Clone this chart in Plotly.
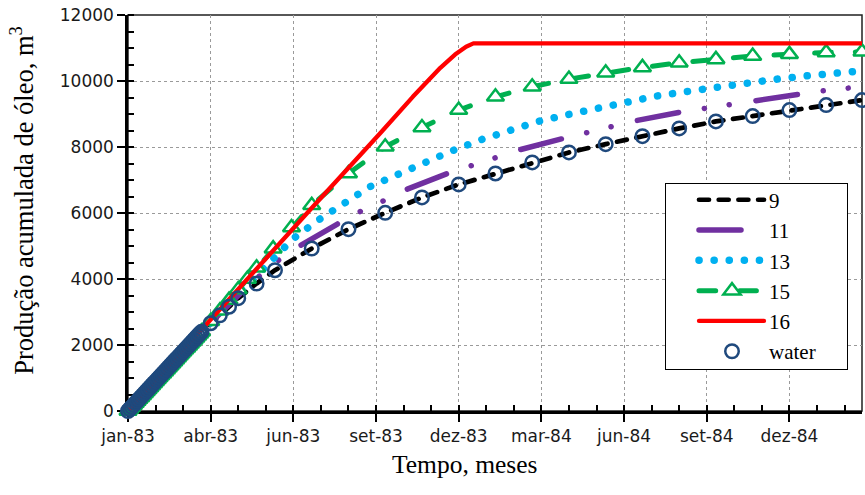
import plotly.graph_objects as go

# ---------------- data (days since 1983-01-01, cumulative oil m3) ----------------
tick_days = [0, 90, 180, 270, 360, 450, 540, 630, 720]
tick_labels = ["jan-83", "abr-83", "jun-83", "set-83", "dez-83", "mar-84", "jun-84", "set-84", "dez-84"]

early_days = [0, 2, 4, 6, 8, 10, 12, 14, 16, 18, 20, 22, 24, 26, 28, 30, 32, 34, 36, 38, 40,
              42, 44, 46, 48, 50, 52, 54, 56, 58, 60, 62, 64, 66, 68, 70, 72, 74, 76, 78, 80]
early_vals = [0, 60, 120, 180, 240, 300, 360, 420, 480, 540, 600, 660, 720, 780, 840, 900, 960,
              1020, 1080, 1140, 1200, 1260, 1320, 1380, 1440, 1500, 1560, 1620, 1680, 1740, 1800,
              1860, 1920, 1980, 2040, 2100, 2160, 2220, 2280, 2340, 2400]

water_days = early_days + [90, 100, 110, 120, 140, 160, 200, 240, 280, 320, 360, 400, 440, 480,
                           520, 560, 600, 640, 680, 720, 760, 799]
water_vals = early_vals + [2660, 2900, 3160, 3420, 3863, 4266, 4924, 5509, 6004, 6471, 6865, 7198,
                           7532, 7835, 8087, 8329, 8563, 8775, 8936, 9118, 9269, 9421]

s9_days = [0, 40, 80, 90, 100, 110, 120, 140, 160, 200, 240, 280, 320, 360, 400, 440, 480, 520,
           560, 600, 640, 680, 720, 760, 799]
s9_vals = [0, 1200, 2400, 2660, 2900, 3160, 3420, 3863, 4266, 4924, 5509, 6004, 6471, 6865, 7198,
           7532, 7835, 8087, 8329, 8563, 8775, 8936, 9118, 9269, 9421]

s11_days = [0, 40, 80, 100, 120, 140, 164, 185, 230, 252, 278, 301, 348, 374, 400, 425, 474, 499,
            527, 552, 603, 627, 655, 681, 731, 757, 784, 799]
s11_vals = [0, 1200, 2400, 2950, 3500, 4020, 4569, 4973, 5700, 6034, 6368, 6692, 7198, 7429, 7683,
            7905, 8260, 8441, 8611, 8793, 9066, 9169, 9300, 9421, 9603, 9703, 9785, 9830]

s13_days = [0, 40, 80, 100, 120, 140, 169, 180, 207, 234, 263, 292, 321, 352, 383, 414, 445, 476,
            509, 542, 575, 606, 638, 671, 704, 736, 769, 785, 799]
s13_vals = [0, 1200, 2400, 2980, 3560, 4100, 4973, 5227, 5782, 6289, 6792, 7147, 7520, 7875, 8209,
            8511, 8763, 8966, 9169, 9369, 9542, 9673, 9806, 9945, 10049, 10149, 10230, 10279, 10310]

s15_days = early_days + [90, 100, 110, 120, 130, 140, 158, 178, 200, 240, 280, 320, 360, 400, 440,
                         480, 520, 560, 600, 640, 680, 720, 760, 799]
s15_vals = early_vals + [2720, 3040, 3360, 3680, 4000, 4340, 4920, 5560, 6237, 7198, 8005, 8593,
                         9118, 9521, 9824, 10058, 10249, 10412, 10552, 10655, 10755, 10807, 10867,
                         10886]

s16_days = [0, 40, 80, 120, 165, 200, 240, 275, 310, 340, 356, 368, 376, 799]
s16_vals = [0, 1220, 2450, 3700, 5076, 6150, 7350, 8430, 9520, 10400, 10800, 11040, 11140, 11140]

# ---------------- figure ----------------
fig = go.Figure()

fig.add_trace(go.Scatter(x=s9_days, y=s9_vals, name="9", mode="lines",
                         line=dict(color="#000000", width=4.7, dash="10px,9.7px")))
fig.add_trace(go.Scatter(x=s11_days, y=s11_vals, name="11", mode="lines",
                         line=dict(color="#7030A0", width=5.5,
                                   dash="42px,26px,0.1px,25px,0.1px,27px")))
fig.add_trace(go.Scatter(x=s13_days, y=s13_vals, name="13", mode="lines",
                         line=dict(color="#00B0F0", width=7.5, dash="0.1px,15px")))
fig.add_trace(go.Scatter(x=s15_days, y=s15_vals, name="15", mode="lines+markers",
                         line=dict(color="#00B050", width=5, dash="16.7px,24px"),
                         marker=dict(symbol="triangle-up", size=15, color="white",
                                     line=dict(color="#00B050", width=2.5)),
                         cliponaxis=False))
fig.add_trace(go.Scatter(x=s16_days, y=s16_vals, name="16", mode="lines",
                         line=dict(color="#FF0000", width=4.3)))
fig.add_trace(go.Scatter(x=water_days, y=water_vals, name="water", mode="markers",
                         marker=dict(symbol="circle-open", size=13.5, color="#1F497D",
                                     line=dict(color="#1F497D", width=2.5)),
                         cliponaxis=False))

tickfont = dict(family="DejaVu Sans", size=17, color="#1a1a1a")
serif = "Liberation Serif, Times New Roman, serif"

fig.update_layout(
    width=865, height=495,
    margin=dict(l=128, r=3, t=15, b=84),
    paper_bgcolor="white", plot_bgcolor="white",
    showlegend=True,
    legend=dict(x=(665 - 128) / 734, y=(411 - 178.6) / 396, xanchor="left", yanchor="top",
                bgcolor="white", bordercolor="black", borderwidth=1,
                font=dict(family=serif, size=21, color="black"),
                itemwidth=93, tracegroupgap=0),
    xaxis=dict(range=[0, 799], tickmode="array", tickvals=tick_days, ticktext=tick_labels,
               ticks="outside", ticklen=8, tickwidth=1.6, tickcolor="black",
               minor=dict(tickmode="linear", tick0=0, dtick=30, ticks="inside", ticklen=6,
                          tickwidth=1.6, tickcolor="black", showgrid=False),
               showline=True, linewidth=2.5, linecolor="black",
               showgrid=True, gridcolor="#9a9a9a", griddash="dot", gridwidth=1,
               zeroline=False, tickfont=tickfont, layer="below traces"),
    yaxis=dict(range=[0, 12000], tickmode="linear", tick0=0, dtick=2000, tickformat="d",
               ticks="outside", ticklen=8, tickwidth=1.6, tickcolor="black",
               minor=dict(tickmode="linear", tick0=0, dtick=500, ticks="inside", ticklen=6,
                          tickwidth=1.6, tickcolor="black", showgrid=False),
               showline=True, linewidth=2.5, linecolor="black",
               showgrid=True, gridcolor="#9a9a9a", griddash="dot", gridwidth=1,
               zeroline=False, tickfont=tickfont, layer="below traces"),
    shapes=[dict(type="rect", xref="paper", yref="paper", x0=0, x1=1, y0=0, y1=1,
                 line=dict(color="#202020", width=1.5), layer="below")],
    annotations=[
        dict(text="Tempo, meses", xref="paper", yref="paper",
             x=(465 - 128) / 734, y=(411 - 464) / 396, xanchor="center", yanchor="middle",
             showarrow=False, font=dict(family=serif, size=25.5, color="black")),
        dict(text="Produção acumulada de óleo, m<sup>3</sup>", xref="paper", yref="paper",
             x=(21.7 - 128) / 734, y=(411 - 200) / 396, xanchor="center", yanchor="middle",
             textangle=-90, showarrow=False, font=dict(family=serif, size=26.5, color="black")),
    ],
)

post = """
var s=document.createElement('style');
s.innerHTML='.js-line{stroke-linecap:round;stroke-linejoin:round}';
document.head.appendChild(s);
var gd=document.getElementById('{plot_id}');
gd.querySelectorAll('.legend .traces').forEach(function(t){
  t.querySelectorAll('.legendlines path').forEach(function(p){p.setAttribute('d','M33,0h65');});
  t.querySelectorAll('.legendpoints path').forEach(function(p){p.setAttribute('transform','translate(66,0)');});
});
var bg=gd.querySelector('.legend rect.bg');
if(bg){
  var y0=parseFloat(bg.getAttribute('y')||'0');
  bg.setAttribute('y', y0+4.7);
  bg.setAttribute('height', 185.7);
  bg.setAttribute('width', 181.7);
}
"""
fig.write_html("out.html", post_script=post)
